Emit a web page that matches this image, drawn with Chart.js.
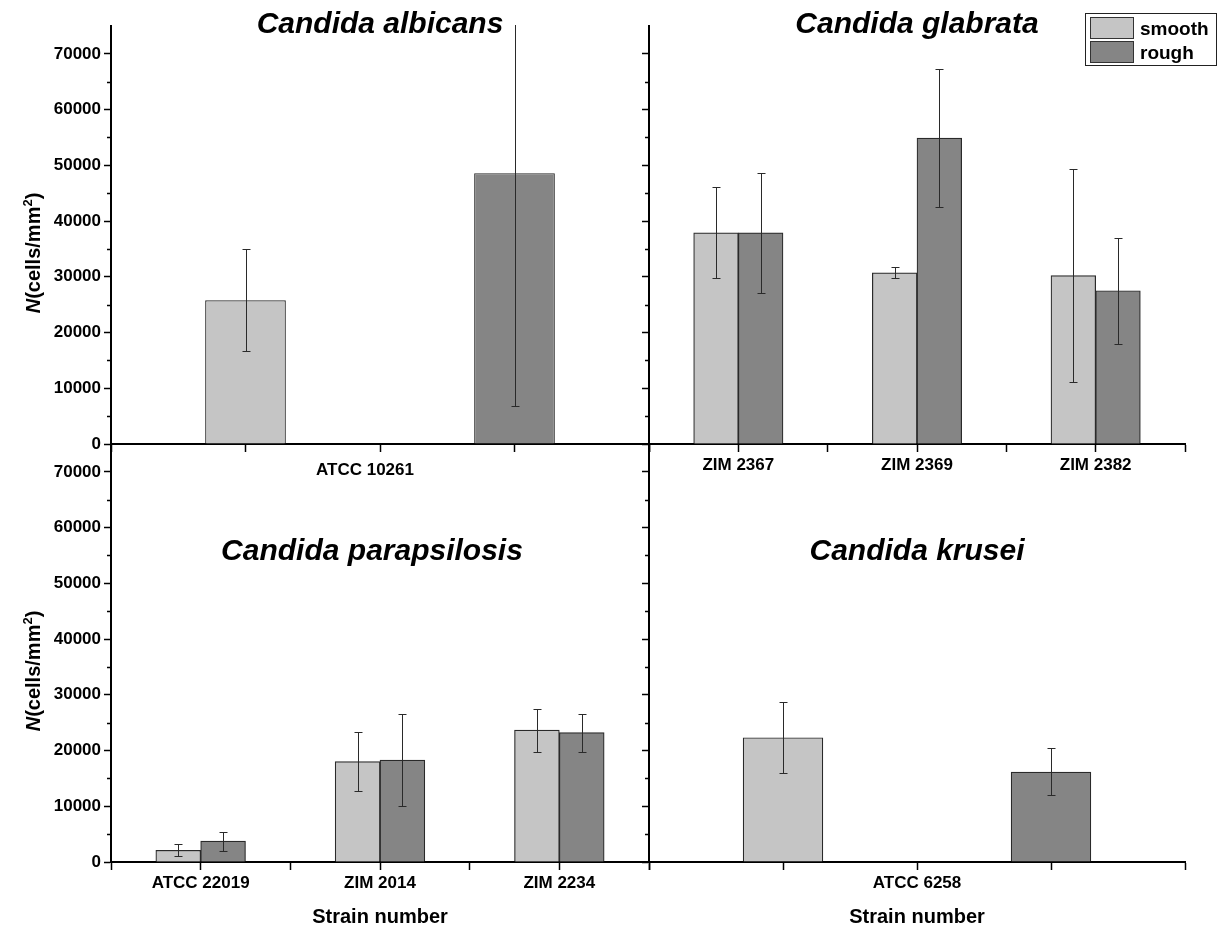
<!DOCTYPE html>
<html lang="en">
<head>
<meta charset="UTF-8">
<title>Candida adhesion on smooth and rough surfaces</title>
<script src="https://cdn.jsdelivr.net/npm/chart.js@4.4.0/dist/chart.umd.min.js"></script>
<style>
  body { margin: 0; background: #fff; }
  #wrap { position: relative; width: 1218px; height: 929px; }
  canvas { position: absolute; }
</style>
</head>
<body>
<div id="wrap">
  <canvas id="albicans" width="660" height="500" style="left:0;top:0"></canvas>
  <canvas id="glabrata" width="576" height="500" style="left:642px;top:0"></canvas>
  <canvas id="parapsilosis" width="660" height="509" style="left:0;top:420px"></canvas>
  <canvas id="krusei" width="576" height="509" style="left:642px;top:420px"></canvas>
</div>
<script>
const seriesNames = ['smooth', 'rough'];
const seriesColors = ['#c5c5c5', '#858585'];

const yTickValues = [0, 10000, 20000, 30000, 40000, 50000, 60000, 70000];
const yMinorTicks = [5000, 15000, 25000, 35000, 45000, 55000, 65000];
const yMax = 75000;

const albicansStrains = ['ATCC 10261'];
const albicansSmooth = [25800];
const albicansSmoothErr = [9200];
const albicansRough = [48600];
const albicansRoughErr = [41800];

const glabrataStrains = ['ZIM 2367', 'ZIM 2369', 'ZIM 2382'];
const glabrataSmooth = [37900, 30700, 30200];
const glabrataSmoothErr = [8200, 1000, 19150];
const glabrataRough = [37900, 54900, 27500];
const glabrataRoughErr = [10800, 12300, 9500];

const parapsilosisStrains = ['ATCC 22019', 'ZIM 2014', 'ZIM 2234'];
const parapsilosisSmooth = [2100, 18000, 23650];
const parapsilosisSmoothErr = [1050, 5270, 3870];
const parapsilosisRough = [3750, 18300, 23200];
const parapsilosisRoughErr = [1700, 8200, 3400];

const kruseiStrains = ['ATCC 6258'];
const kruseiSmooth = [22350];
const kruseiSmoothErr = [6300];
const kruseiRough = [16200];
const kruseiRoughErr = [4200];

const FONT = "'Liberation Sans', Arial, sans-serif";

// extra drawing for one panel: minor ticks, error bars, titles, legend
function decor(o) {
  return {
    id: 'decor',
    afterDatasetsDraw(chart) {
      const ctx = chart.ctx, area = chart.chartArea, y = chart.scales.y;
      ctx.save();
      ctx.beginPath();
      ctx.rect(area.left, area.top - 1, area.right - area.left, area.bottom - area.top + 1);
      ctx.clip();
      ctx.strokeStyle = '#2a2a2a';
      ctx.lineWidth = 1;
      chart.data.datasets.forEach((ds, di) => {
        chart.getDatasetMeta(di).data.forEach((bar, i) => {
          const v = ds.data[i].y, e = ds.errors[i];
          const yHi = Math.round(y.getPixelForValue(v + e)) + 0.5;
          const yLo = Math.round(y.getPixelForValue(v - e)) + 0.5;
          const x = Math.round(bar.x) + 0.5;
          ctx.beginPath();
          ctx.moveTo(x, yHi); ctx.lineTo(x, yLo);
          ctx.moveTo(x - 4, yHi); ctx.lineTo(x + 4, yHi);
          ctx.moveTo(x - 4, yLo); ctx.lineTo(x + 4, yLo);
          ctx.stroke();
        });
      });
      ctx.restore();
    },
    afterDraw(chart) {
      const ctx = chart.ctx, area = chart.chartArea, y = chart.scales.y;
      ctx.save();
      // minor y ticks
      ctx.strokeStyle = '#000';
      ctx.lineWidth = 1.5;
      ctx.beginPath();
      yMinorTicks.forEach(v => {
        const py = Math.round(y.getPixelForValue(v)) + 0.5;
        ctx.moveTo(area.left - 4, py); ctx.lineTo(area.left, py);
      });
      ctx.stroke();

      // panel title
      ctx.fillStyle = '#000';
      ctx.font = 'italic bold 30px ' + FONT;
      ctx.textAlign = 'center';
      ctx.textBaseline = 'alphabetic';
      ctx.fillText(o.title, (area.left + area.right) / 2 + (o.titleDx || 0), area.top + o.titleY);

      // y axis title with italic N and superscript 2
      if (o.yTitle) {
        const parts = [
          {t: 'N', f: 'italic bold 20px ' + FONT, dy: 0},
          {t: '(cells/mm', f: 'bold 20px ' + FONT, dy: 0},
          {t: '2', f: 'bold 13px ' + FONT, dy: -8},
          {t: ')', f: 'bold 20px ' + FONT, dy: 0}
        ];
        let total = 0;
        parts.forEach(p => { ctx.font = p.f; p.w = ctx.measureText(p.t).width; total += p.w; });
        ctx.translate(area.left - 71, (area.top + area.bottom) / 2 + 18);
        ctx.rotate(-Math.PI / 2);
        ctx.textAlign = 'left';
        let u = -total / 2;
        parts.forEach(p => { ctx.font = p.f; ctx.fillText(p.t, u, p.dy); u += p.w; });
        ctx.setTransform(1, 0, 0, 1, 0, 0);
      }

      // legend box
      if (o.legend) {
        const lx = chart.width - 133, ly = 13;
        ctx.strokeStyle = '#222';
        ctx.lineWidth = 1;
        ctx.strokeRect(lx + 0.5, ly + 0.5, 131, 52);
        ctx.textAlign = 'left';
        ctx.font = 'bold 19px ' + FONT;
        chart.data.datasets.forEach((ds, k) => {
          const sy = ly + 4 + k * 24;
          ctx.fillStyle = ds.backgroundColor;
          ctx.fillRect(lx + 5, sy, 44, 22);
          ctx.strokeStyle = '#333';
          ctx.strokeRect(lx + 5.5, sy + 0.5, 43, 21);
          ctx.fillStyle = '#000';
          ctx.fillText(ds.label, lx + 55, sy + 18);
        });
      }
      ctx.restore();
    }
  };
}

function panel(id, o) {
  const single = o.strains.length === 1;
  const xMax = single ? 4 : o.strains.length * 2;
  // one strain: smooth and rough stand apart with the strain name between them
  const xOf = (i, s) => single ? 1 + 2 * s : 2 * i + 1;
  const labelAt = {};
  o.strains.forEach((name, i) => { labelAt[single ? 2 : 2 * i + 1] = name; });
  const series = [o.smooth, o.rough];
  const errs = [o.smoothErr, o.roughErr];
  const tickFont = {family: FONT, size: 17, weight: 'bold'};

  return new Chart(document.getElementById(id), {
    type: 'bar',
    data: {
      datasets: series.map((vals, s) => ({
        label: seriesNames[s],
        data: vals.map((v, i) => ({x: xOf(i, s), y: v})),
        errors: errs[s],
        backgroundColor: seriesColors[s],
        borderColor: '#2a2a2a',
        borderWidth: 1.2,
        grouped: !single,
        categoryPercentage: single ? 0.6 : 1,
        barPercentage: 1
      }))
    },
    options: {
      responsive: false,
      animation: false,
      layout: {padding: {top: o.padTop, right: o.padRight, left: 0, bottom: 0}},
      scales: {
        x: {
          type: 'linear',
          min: 0,
          max: xMax,
          offset: false,
          grid: {drawOnChartArea: false, offset: false, tickLength: 8, tickColor: '#000', tickWidth: 1.5},
          border: {color: '#000', width: 2},
          ticks: {
            stepSize: 1,
            autoSkip: false,
            maxRotation: 0,
            padding: o.xPad,
            labelOffset: o.labelShift || 0,
            color: '#000',
            font: tickFont,
            callback: v => labelAt[v] || ''
          },
          title: {
            display: !!o.xTitle,
            text: o.xTitle || '',
            color: '#000',
            font: {family: FONT, size: 20, weight: 'bold'},
            padding: {top: 0, bottom: 0}
          },
          afterFit: s => { s.height = o.xHeight; }
        },
        y: {
          min: 0,
          max: yMax,
          grid: {drawOnChartArea: false, tickLength: 7, tickColor: '#000', tickWidth: 1.5},
          border: {color: '#000', width: 2},
          ticks: {display: o.yLabels, padding: 3, color: '#000', font: tickFont, callback: v => String(v)},
          afterBuildTicks: s => { s.ticks = yTickValues.map(v => ({value: v})); },
          afterFit: s => { s.width = o.yWidth; }
        }
      },
      plugins: {legend: {display: false}, tooltip: {enabled: false}}
    },
    plugins: [decor(o)]
  });
}

panel('albicans', {
  strains: albicansStrains, smooth: albicansSmooth, smoothErr: albicansSmoothErr,
  rough: albicansRough, roughErr: albicansRoughErr,
  title: 'Candida albicans', titleY: 7, yTitle: true, yLabels: true,
  padTop: 26, padRight: 11, yWidth: 111, xHeight: 56, xPad: 8, labelShift: -15
});
panel('glabrata', {
  strains: glabrataStrains, smooth: glabrataSmooth, smoothErr: glabrataSmoothErr,
  rough: glabrataRough, roughErr: glabrataRoughErr,
  title: 'Candida glabrata', titleY: 7, legend: true, yLabels: false,
  padTop: 26, padRight: 33, yWidth: 7, xHeight: 56, xPad: 3
});
panel('parapsilosis', {
  strains: parapsilosisStrains, smooth: parapsilosisSmooth, smoothErr: parapsilosisSmoothErr,
  rough: parapsilosisRough, roughErr: parapsilosisRoughErr,
  title: 'Candida parapsilosis', titleY: 116, titleDx: -8, yTitle: true, yLabels: true,
  xTitle: 'Strain number',
  padTop: 24, padRight: 11, yWidth: 111, xHeight: 67, xPad: 3
});
panel('krusei', {
  strains: kruseiStrains, smooth: kruseiSmooth, smoothErr: kruseiSmoothErr,
  rough: kruseiRough, roughErr: kruseiRoughErr,
  title: 'Candida krusei', titleY: 116, yLabels: false,
  xTitle: 'Strain number',
  padTop: 24, padRight: 33, yWidth: 7, xHeight: 67, xPad: 3
});
</script>
</body>
</html>
